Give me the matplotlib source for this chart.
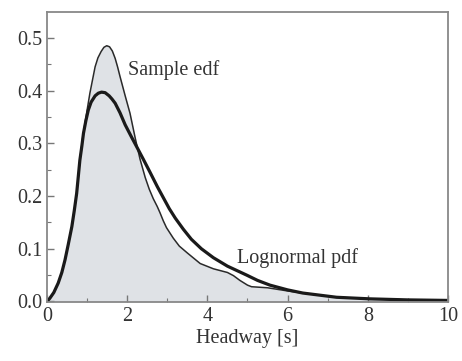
import matplotlib
matplotlib.use("Agg")
import matplotlib.pyplot as plt
from matplotlib.ticker import MultipleLocator

# Sample edf (thin outline, filled)
edf_x = [0.0, 0.07, 0.17, 0.28, 0.37, 0.45, 0.53, 0.62, 0.68, 0.74, 0.82, 0.89, 0.96,
         1.02, 1.07, 1.14, 1.2, 1.27, 1.35, 1.42, 1.49, 1.56, 1.63, 1.7, 1.76, 1.82,
         1.95, 2.07, 2.2, 2.32, 2.45, 2.55, 2.65, 2.75, 2.82, 2.9, 2.98, 3.15, 3.3,
         3.5, 3.82, 4.15, 4.5, 4.65, 4.81, 5.0, 5.1, 5.3, 5.5, 6.0, 6.38, 7.22, 8.05, 9.0, 10.0]
edf_y = [0.0, 0.006, 0.017, 0.035, 0.055, 0.079, 0.108, 0.142, 0.172, 0.205, 0.268, 0.31, 0.344,
         0.372, 0.395, 0.422, 0.445, 0.462, 0.474, 0.482, 0.485, 0.483, 0.475, 0.461, 0.445, 0.427,
         0.39, 0.357, 0.31, 0.27, 0.235, 0.213, 0.195, 0.18, 0.168, 0.153, 0.140, 0.12, 0.105,
         0.092, 0.072, 0.062, 0.055, 0.049, 0.040, 0.031, 0.028, 0.027, 0.026, 0.020, 0.016, 0.008, 0.005, 0.003, 0.002]

# Lognormal pdf (thick line)
logn_x = [0.0, 0.07, 0.17, 0.28, 0.37, 0.45, 0.53, 0.62, 0.68, 0.74, 0.82, 0.87, 0.91,
          0.97, 1.03, 1.1, 1.2, 1.28, 1.36, 1.45, 1.55, 1.62, 1.7, 1.82, 1.95, 2.1,
          2.24, 2.4, 2.57, 2.75, 2.9, 3.05, 3.2, 3.4, 3.6, 3.85, 4.15, 4.5, 4.98, 5.25,
          5.56, 6.0, 6.38, 7.22, 8.05, 9.0, 10.0]
logn_y = [0.0, 0.006, 0.017, 0.035, 0.055, 0.079, 0.108, 0.142, 0.172, 0.205, 0.268, 0.295, 0.319,
          0.343, 0.363, 0.378, 0.39, 0.395, 0.397, 0.396, 0.39, 0.384, 0.376, 0.358, 0.335, 0.313,
          0.293, 0.27, 0.245, 0.218, 0.197, 0.176, 0.158, 0.137, 0.118, 0.100, 0.083, 0.067, 0.050, 0.040,
          0.031, 0.022, 0.016, 0.008, 0.005, 0.003, 0.002]

x_ticks = [0, 2, 4, 6, 8, 10]
y_ticks = [0.0, 0.1, 0.2, 0.3, 0.4, 0.5]

plt.rcParams['font.family'] = ['Liberation Serif', 'DejaVu Serif']

fig = plt.figure(figsize=(4.62, 3.61), dpi=100)
ax = fig.add_axes([0.1017, 0.1634, 0.8680, 0.8034])

ax.fill_between(edf_x, edf_y, 0, color='#dfe2e6', lw=0)
ax.plot(edf_x, edf_y, color='#2a2a2a', lw=1.1, solid_joinstyle='round')
ax.plot(logn_x, logn_y, color='#1a1a1a', lw=2.3, solid_joinstyle='round')

ax.set_xlim(0, 10)
ax.set_ylim(-0.001, 0.549)
ax.set_xticks(x_ticks)
ax.set_yticks(y_ticks)
ax.set_yticklabels([f"{v:.1f}" for v in y_ticks])
ax.xaxis.set_minor_locator(MultipleLocator(1))
ax.yaxis.set_minor_locator(MultipleLocator(0.05))
ax.tick_params(which='both', direction='in', colors='#777777', labelcolor='#333333',
               labelsize=14.5, top=False, right=False)
ax.tick_params(which='major', length=5, width=1)
ax.tick_params(which='minor', length=3, width=0.8)
for s in ax.spines.values():
    s.set_color('#888888')
    s.set_linewidth(1.3)

ax.set_xlabel('Headway [s]', fontsize=14.5, color='#333333', labelpad=2)
ax.text(2.02, 0.439, 'Sample edf', fontsize=14.5, color='#333333', va='center', ha='left')
ax.text(4.73, 0.082, 'Lognormal pdf', fontsize=14.5, color='#333333', va='center', ha='left')

fig.savefig('out.png', dpi=100)
